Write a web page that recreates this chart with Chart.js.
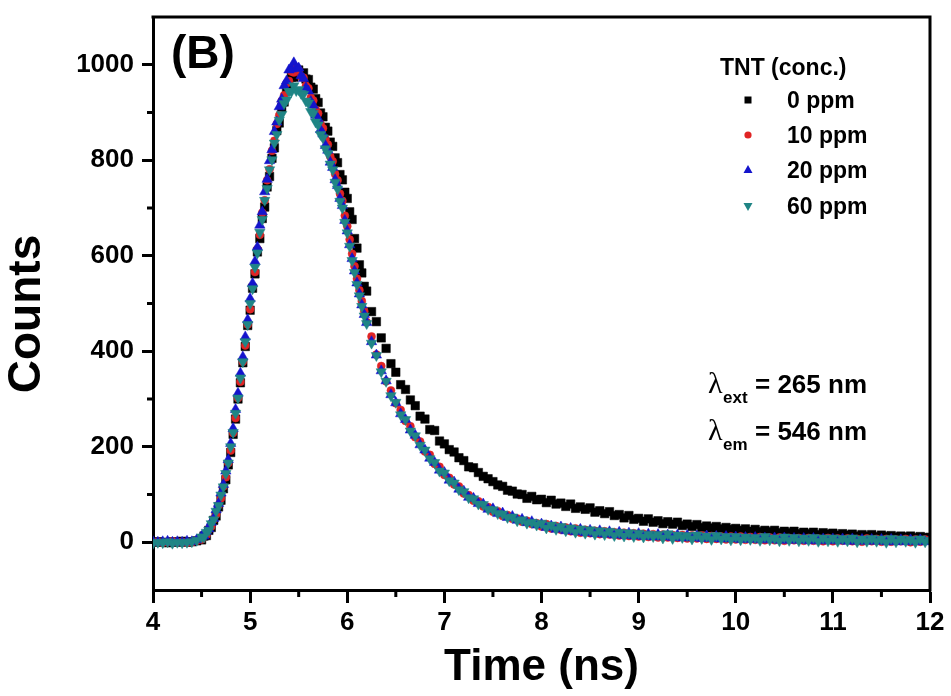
<!DOCTYPE html>
<html>
<head>
<meta charset="utf-8">
<script src="https://cdn.jsdelivr.net/npm/chart.js@4.4.1/dist/chart.umd.min.js"></script>
<style>
  html, body { margin: 0; padding: 0; background: #ffffff; }
  #wrap { width: 951px; height: 696px; position: relative; }
</style>
</head>
<body>
<div id="wrap"><canvas id="c" width="951" height="696"></canvas></div>
<script>
// ---------------- DATA ----------------
const seriesNames = ["0 ppm", "10 ppm", "20 ppm", "60 ppm"];
const legendTitle = "TNT (conc.)";
const xTitle = "Time (ns)";
const yTitle = "Counts";
const xTickValues = [4, 5, 6, 7, 8, 9, 10, 11, 12];
const yTickValues = [0, 200, 400, 600, 800, 1000];
const xMinorTicks = [4.5, 5.5, 6.5, 7.5, 8.5, 9.5, 10.5, 11.5];
const yMinorTicks = [100, 300, 500, 700, 900];

// time (ns)
const times = [
  4.00,4.05,4.10,4.15,4.20,4.25,4.30,4.35,4.40,4.45,
  4.50,4.525,4.55,4.575,4.60,4.625,4.65,4.675,4.70,4.725,4.75,4.775,4.80,4.825,4.85,4.875,4.90,4.925,4.95,4.975,
  5.00,5.025,5.05,5.075,5.10,5.125,5.15,5.175,5.20,5.225,5.25,5.275,5.30,5.325,5.35,5.375,5.40,5.425,5.45,5.475,
  5.50,5.525,5.55,5.575,5.60,5.625,5.65,5.675,5.70,5.725,5.75,5.775,5.80,5.825,5.85,5.875,5.90,5.925,5.95,5.975,
  6.00,6.025,6.05,6.075,6.10,6.125,6.15,6.175,
  6.20,6.25,6.30,6.35,6.40,6.45,6.50,6.55,6.60,6.65,6.70,6.75,6.80,6.85,6.90,6.95,
  7.00,7.05,7.10,7.15,7.20,7.25,7.30,7.35,7.40,7.45,7.50,7.55,7.60,7.65,7.70,7.75,7.80,7.85,7.90,7.95,
  8.00,8.05,8.10,8.15,8.20,8.25,8.30,8.35,8.40,8.45,8.50,8.55,8.60,8.65,8.70,8.75,8.80,8.85,8.90,8.95,
  9.00,9.05,9.10,9.15,9.20,9.25,9.30,9.35,9.40,9.45,9.50,9.55,9.60,9.65,9.70,9.75,9.80,9.85,9.90,9.95,
  10.00,10.05,10.10,10.15,10.20,10.25,10.30,10.35,10.40,10.45,10.50,10.55,10.60,10.65,10.70,10.75,10.80,10.85,10.90,10.95,
  11.00,11.05,11.10,11.15,11.20,11.25,11.30,11.35,11.40,11.45,11.50,11.55,11.60,11.65,11.70,11.75,11.80,11.85,11.90,11.95,
  12.00
];

// counts, 0 ppm
const counts0 = [
  0,1,0,-1,1,0,2,0,1,3,
  5,13,14,25,31,46,55,74,88,112,131,162,188,226,258,300,334,376,410,454,
  486,532,562,608,636,678,702,744,766,804,826,862,878,910,922,948,954,974,974,988,
  989,981,983,970,969,953,949,929,921,899,891,869,861,838,829,805,795,770,759,733,
  720,692,676,636,616,581,564,536,
  526,483,462,428,406,374,356,330,320,298,286,264,258,236,234,212,
  206,194,189,177,171,158,156,146,138,133,127,120,117,109,107,101,100,92,96,89,
  90,83,88,80,82,75,80,71,74,69,72,63,66,60,64,56,58,51,56,48,
  50,44,49,42,45,39,43,38,42,35,38,33,37,31,34,30,33,28,31,27,
  29,25,28,23,27,22,25,22,25,20,23,20,23,18,21,18,21,16,20,17,
  19,15,18,15,17,13,16,13,16,12,15,12,14,11,13,11,13,10,12,10,
  10
];

// counts, 10 ppm
const counts10 = [
  0,1,-1,0,2,0,1,-1,0,3,
  6,14,15,27,33,48,58,78,92,117,136,166,192,229,260,302,336,378,412,456,
  488,536,566,614,644,690,716,758,781,820,841,876,894,924,936,961,966,986,984,994,
  988,975,973,956,951,931,925,906,898,876,867,844,833,808,798,771,758,730,715,684,
  662,634,604,578,552,528,505,484,
  461,431,393,369,337,318,291,277,254,243,220,211,190,183,164,158,
  141,135,121,117,102,99,87,86,75,74,64,65,55,57,49,50,43,45,38,40,
  33,38,29,34,26,31,23,29,20,26,19,24,17,23,16,21,14,20,13,19,
  12,18,11,17,10,16,10,15,9,15,8,14,8,14,7,13,7,12,6,12,
  6,12,5,11,5,11,4,10,4,10,3,9,4,9,3,9,3,8,2,9,
  2,8,3,8,2,7,1,8,2,7,1,7,1,6,2,7,0,6,1,6,
  4
];

// counts, 20 ppm
const counts20 = [
  1,0,1,2,0,1,0,2,1,5,
  12,13,23,28,42,50,68,81,103,121,149,173,207,238,278,312,354,388,430,466,
  510,542,588,618,664,692,734,760,799,822,860,880,912,928,956,966,989,991,1004,992,
  993,977,971,952,945,923,915,894,887,864,855,831,821,796,785,759,747,720,705,674,
  652,623,594,568,543,520,497,477,
  460,420,392,359,338,309,292,269,257,235,224,204,193,176,167,151,
  146,130,126,111,107,94,92,81,80,69,70,60,61,52,54,46,48,41,43,36,
  38,31,34,27,32,24,29,22,27,20,25,18,24,17,22,15,21,14,19,13,
  18,12,17,11,16,11,15,10,15,9,14,9,13,8,13,8,12,7,12,7,
  11,6,10,6,10,5,9,5,9,4,9,4,8,4,8,3,8,3,7,3,
  7,3,7,2,7,2,6,2,6,2,6,1,6,1,5,1,5,1,5,1,
  4
];

// counts, 60 ppm
const counts60 = [
  -2,0,-1,1,-2,0,-1,0,1,4,
  11,11,21,25,39,47,65,77,99,116,144,166,200,230,270,302,344,378,420,456,
  500,531,576,606,649,676,716,741,780,801,836,854,884,896,919,926,944,944,956,946,
  948,940,938,924,920,902,898,880,874,854,847,824,814,792,780,754,740,714,700,670,
  648,620,590,565,540,516,494,474,
  458,417,391,357,337,307,293,267,257,233,223,203,193,175,167,149,
  145,129,124,110,106,93,91,80,79,69,68,60,59,52,53,45,47,40,42,36,
  40,30,36,27,33,24,30,21,28,19,26,17,24,16,23,14,21,13,20,12,
  19,11,17,12,16,9,18,8,15,10,14,7,15,8,13,6,14,7,12,5,
  12,5,11,6,10,4,12,5,9,3,11,4,10,3,9,4,10,2,9,3,
  9,2,8,3,9,1,7,2,8,2,7,0,8,1,7,2,6,0,7,1,
  4
];

// ---------------- STYLE ----------------
const FONT = '"Liberation Sans", Arial, Helvetica, sans-serif';
const colors = ["#000000", "#e02424", "#1414cc", "#1f8585"];
const styles = [
  { pointStyle: "rect", radius: 6, rotation: 0 },
  { pointStyle: "circle", radius: 4, rotation: 0 },
  { pointStyle: "triangle", radius: 6, rotation: 0 },
  { pointStyle: "triangle", radius: 6, rotation: 180 }
];
const allCounts = [counts0, counts10, counts20, counts60];

function toPoints(ys) { return times.map((t, i) => ({ x: t, y: ys[i] })); }

const datasets = allCounts.map((ys, k) => ({
  label: seriesNames[k],
  data: toPoints(ys),
  showLine: false,
  backgroundColor: colors[k],
  borderColor: colors[k],
  pointStyle: styles[k].pointStyle,
  pointRadius: styles[k].radius,
  pointRotation: styles[k].rotation,
  pointBorderWidth: 0.5,
  order: 3 - k
}));

const decorPlugin = {
  id: "decor",
  afterDraw(chart) {
    const { ctx, chartArea: a, scales } = chart;
    const xs = scales.x, ys = scales.y;
    ctx.save();
    ctx.strokeStyle = "#000";
    ctx.lineWidth = 3;
    // top & right frame lines
    ctx.beginPath();
    ctx.moveTo(a.left - 1.5, a.top);
    ctx.lineTo(a.right, a.top);
    ctx.lineTo(a.right, a.bottom + 1.5);
    ctx.stroke();
    // minor ticks
    ctx.beginPath();
    yMinorTicks.forEach(v => {
      const p = ys.getPixelForValue(v);
      ctx.moveTo(a.left - 6, p); ctx.lineTo(a.left, p);
    });
    xMinorTicks.forEach(v => {
      const p = xs.getPixelForValue(v);
      ctx.moveTo(p, a.bottom); ctx.lineTo(p, a.bottom + 7);
    });
    ctx.stroke();

    ctx.fillStyle = "#000";

    // y-axis title
    ctx.save();
    ctx.translate(27, 314);
    ctx.rotate(-Math.PI / 2);
    ctx.textAlign = "center";
    ctx.textBaseline = "middle";
    ctx.font = "bold 46px " + FONT;
    ctx.fillText(yTitle, 0, 0);
    ctx.restore();

    ctx.textAlign = "left";
    ctx.textBaseline = "alphabetic";
    // panel label
    ctx.font = "bold 46px " + FONT;
    ctx.fillText("(B)", 171, 68);

    // legend
    ctx.font = "bold 23px " + FONT;
    ctx.fillText(legendTitle, 720, 75);
    const ly = [100, 135, 170, 206];
    const lx = 748;
    seriesNames.forEach((name, k) => {
      const y = ly[k];
      ctx.fillStyle = colors[k];
      ctx.beginPath();
      if (k === 0) {
        ctx.rect(lx - 3.5, y - 3.5, 7, 7);
      } else if (k === 1) {
        ctx.arc(lx, y, 3.6, 0, Math.PI * 2);
      } else if (k === 2) {
        ctx.moveTo(lx, y - 5); ctx.lineTo(lx + 4.5, y + 3); ctx.lineTo(lx - 4.5, y + 3); ctx.closePath();
      } else {
        ctx.moveTo(lx, y + 5); ctx.lineTo(lx + 4.5, y - 3); ctx.lineTo(lx - 4.5, y - 3); ctx.closePath();
      }
      ctx.fill();
      ctx.fillStyle = "#000";
      ctx.font = "bold 23px " + FONT;
      ctx.fillText(name, 787, y + 8);
    });

    // excitation / emission annotations
    const lines = [
      { sub: "ext", rest: "= 265 nm", base: 393 },
      { sub: "em", rest: "= 546 nm", base: 440 }
    ];
    lines.forEach(l => {
      ctx.font = '30px "Liberation Serif", "DejaVu Serif", serif';
      ctx.fillText("\u03bb", 708, l.base);
      ctx.font = "bold 17px " + FONT;
      ctx.fillText(l.sub, 723, l.base + 10);
      ctx.font = "bold 26px " + FONT;
      ctx.fillText(l.rest, 755, l.base);
    });
    ctx.restore();
  }
};

new Chart(document.getElementById("c"), {
  type: "scatter",
  data: { datasets },
  plugins: [decorPlugin],
  options: {
    responsive: false,
    animation: false,
    devicePixelRatio: 1,
    layout: { padding: { top: 17, right: 21, left: 0, bottom: 0 } },
    plugins: { legend: { display: false }, tooltip: { enabled: false } },
    scales: {
      x: {
        type: "linear",
        position: "bottom",
        min: 4, max: 12,
        afterBuildTicks: s => { s.ticks = xTickValues.map(v => ({ value: v })); },
        afterFit: s => { s.height = 106; s.paddingLeft = 0; s.paddingRight = 0; },
        ticks: { color: "#000", font: { family: FONT, size: 26, weight: "bold" }, padding: 4, autoSkip: false, maxRotation: 0, callback: v => String(v) },
        grid: { drawOnChartArea: false, drawTicks: true, tickLength: 13, tickWidth: 3, tickColor: "#000" },
        border: { display: true, color: "#000", width: 3 },
        title: { display: true, text: xTitle, color: "#000", font: { family: FONT, size: 44, weight: "bold" }, padding: { top: 0, bottom: 2 } }
      },
      y: {
        type: "linear",
        position: "left",
        min: -100, max: 1100,
        afterBuildTicks: s => { s.ticks = yTickValues.map(v => ({ value: v })); },
        afterFit: s => { s.width = 153; s.paddingTop = 0; s.paddingBottom = 0; },
        ticks: { color: "#000", font: { family: FONT, size: 26, weight: "bold" }, padding: 8, autoSkip: false, callback: v => String(v) },
        grid: { drawOnChartArea: false, drawTicks: true, tickLength: 11, tickWidth: 3, tickColor: "#000" },
        border: { display: true, color: "#000", width: 3 },
        title: { display: false, text: yTitle }
      }
    }
  }
});
</script>
</body>
</html>
